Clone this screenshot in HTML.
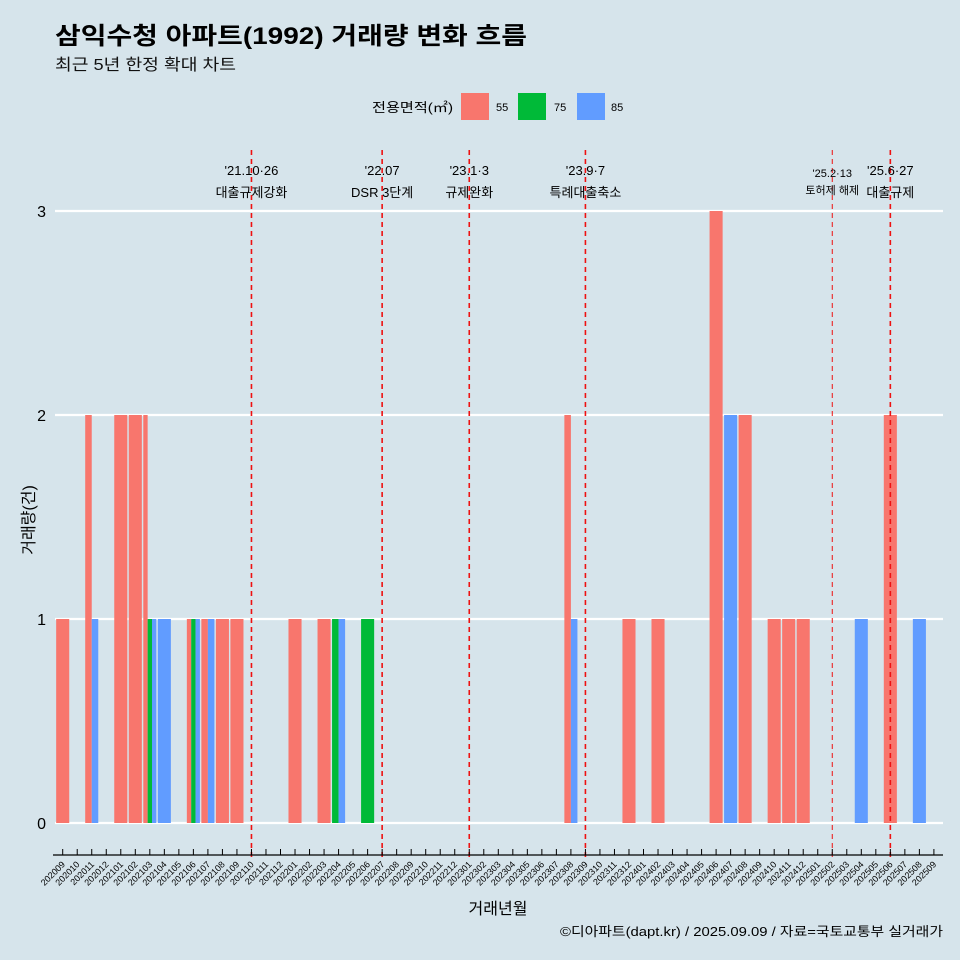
<!DOCTYPE html>
<html><head><meta charset="utf-8"><style>
html,body{margin:0;padding:0;background:#d6e4eb;}
svg{display:block;font-family:"Liberation Sans","Noto Sans CJK KR",sans-serif;}
</style></head><body>
<svg id="c" width="960" height="960" viewBox="0 0 960 960">
<rect width="960" height="960" fill="#d6e4eb"/>
<text x="55" y="44" font-size="24" font-weight="bold" fill="#000" textLength="472" lengthAdjust="spacingAndGlyphs">삼익수청 아파트(1992) 거래량 변화 흐름</text>
<text x="55" y="70" font-size="16" fill="#111" textLength="181" lengthAdjust="spacingAndGlyphs">최근 5년 한정 확대 차트</text>
<g>
<text x="453" y="112" font-size="13" text-anchor="end" textLength="81" lengthAdjust="spacingAndGlyphs">전용면적(㎡)</text>
<rect x="461" y="93" width="28" height="27" fill="#f8766d"/>
<text x="496" y="111" font-size="11">55</text>
<rect x="518" y="93" width="28" height="27" fill="#00ba38"/>
<text x="554" y="111" font-size="11">75</text>
<rect x="577" y="93" width="28" height="27" fill="#619cff"/>
<text x="611" y="111" font-size="11">85</text>
</g>
<g id="grid"></g><g id="bars"></g><g id="events"></g><g id="axes"></g>
<text x="498" y="914" font-size="16" text-anchor="middle">거래년월</text>
<text transform="translate(34,520) rotate(-90)" font-size="16" text-anchor="middle">거래량(건)</text>
<text x="943" y="936" font-size="13" text-anchor="end" textLength="383" lengthAdjust="spacingAndGlyphs">©디아파트(dapt.kr) / 2025.09.09 / 자료=국토교통부 실거래가</text>
</svg>
<script>
const months = [];
for (let y = 2020, m = 9; !(y === 2025 && m === 10); m++) { if (m > 12) { m = 1; y++; } if (y === 2025 && m === 10) break; months.push(String(y) + String(m).padStart(2, '0')); }
const barMonths = ['202009','202011','202011','202101','202102','202103','202103','202103','202104','202106','202106','202106','202107','202107','202108','202109','202201','202203','202204','202204','202206','202308','202308','202312','202402','202406','202407','202408','202410','202411','202412','202504','202506','202508'];
const barSizes  = ['55','55','85','55','55','55','75','85','85','55','75','85','55','85','55','55','55','55','75','85','75','55','85','55','55','55','85','55','55','55','55','85','55','85'];
const barCounts = [1,2,1,2,2,2,1,1,1,1,1,1,1,1,1,1,1,1,1,1,1,2,1,1,1,3,2,2,1,1,1,1,2,1];
const yTicks = [0,1,2,3];
const eventMonths = ['202110','202207','202301','202309','202502','202506'];
const eventDates = ["'21.10·26","'22.07","'23.1·3","'23.9·7","'25.2·13","'25.6·27"];
const eventTexts = ['대출규제강화','DSR 3단계','규제완화','특례대출축소','토허제 해제','대출규제'];
const colors = {'55':'#f8766d','75':'#00ba38','85':'#619cff'};
const NS = 'http://www.w3.org/2000/svg';
const x0 = 62.7, step = 14.52, y0 = 823, yUnit = 204;
const xScale = m => x0 + months.indexOf(m) * step;
const yScale = v => y0 - v * yUnit;
function mk(tag, attrs, parent) { const e = document.createElementNS(NS, tag); for (const k in attrs) e.setAttribute(k, attrs[k]); document.getElementById(parent).appendChild(e); return e; }
yTicks.forEach(t => {
  const l = mk('line', {x1: 55, x2: 943, y1: yScale(t), y2: yScale(t), stroke: '#fff', 'stroke-width': 2.2}, 'grid');
  
  
  const tx = mk('text', {x: 46, y: yScale(t) + 6, 'font-size': 16, 'text-anchor': 'end'}, 'axes');
  tx.textContent = t;
  
  
});
const groups = {};
barMonths.forEach((m, i) => { (groups[m] = groups[m] || []).push(i); });
const bw = step * 0.9;
Object.keys(groups).forEach(m => {
  const idx = groups[m], n = idx.length, w = bw / n;
  idx.forEach((i, k) => {
    const xl = xScale(m) - bw / 2 + k * w;
    const r = mk('rect', {x: xl, y: yScale(barCounts[i]), width: w, height: yScale(0) - yScale(barCounts[i]), fill: colors[barSizes[i]]}, 'bars');
    
    
  });
});
eventMonths.forEach((m, i) => {
  const x = xScale(m), thin = m === '202502';
  const l = mk('line', {x1: x, x2: x, y1: 150, y2: 858, stroke: '#ee1111', 'stroke-width': thin ? 1 : 1.6, 'stroke-dasharray': '5,4'}, 'events');
  
  
  const fs = thin ? 11 : 13;
  const a = mk('text', {x: x, y: thin ? 177 : 175, 'font-size': fs, 'text-anchor': 'middle'}, 'events');
  a.textContent = eventDates[i];
  
  
  const b = mk('text', {x: x, y: thin ? 194 : 197, 'font-size': fs, 'text-anchor': 'middle'}, 'events');
  b.textContent = eventTexts[i];
  
  
});
const ax = mk('line', {x1: 53, x2: 943, y1: 855, y2: 855, stroke: '#000', 'stroke-width': 1.2}, 'axes');


months.forEach(m => {
  const x = xScale(m);
  const t = mk('line', {x1: x, x2: x, y1: 849, y2: 855, stroke: '#000', 'stroke-width': 1}, 'axes');
  
  
  const tx = mk('text', {x: 0, y: 0, 'font-size': 9, 'text-anchor': 'end', transform: 'translate(' + (x + 3) + ',865) rotate(-45)'}, 'axes');
  tx.textContent = m;
  
  
});
</script>
</body></html>
